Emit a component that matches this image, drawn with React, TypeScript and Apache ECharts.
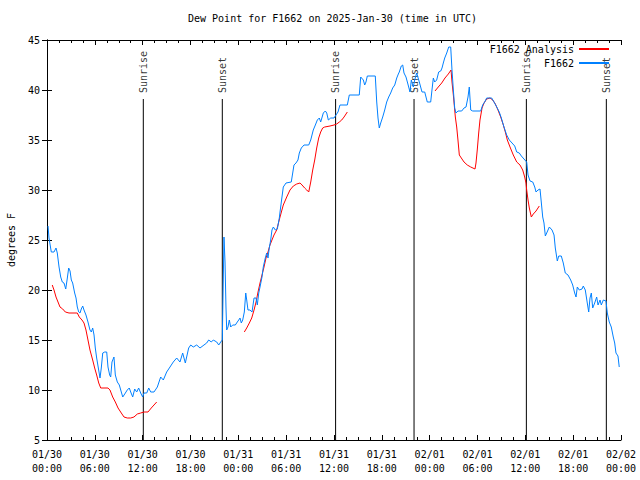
import React, { useEffect, useRef } from "react";
import * as echarts from "echarts";

// Hours since 2025-01-30 00:00 UTC
const blueT = [0.13,0.25,0.54,0.88,1.13,1.29,1.51,1.72,1.92,2.13,2.35,2.55,2.72,2.89,3.05,3.22,3.47,3.64,3.8,3.98,4.14,4.3,4.48,4.64,4.89,5.14,5.39,5.56,5.73,5.9,6.06,6.23,6.44,6.65,6.81,6.99,7.24,7.49,7.65,7.86,7.99,8.15,8.4,8.57,8.82,9.07,9.32,9.5,9.75,10.07,10.32,10.5,10.75,11.0,11.25,11.5,11.75,12.0,12.17,12.51,12.76,13.01,13.42,13.84,14.26,14.59,15.01,15.43,15.84,16.27,16.68,17.02,17.35,17.77,18.03,18.35,18.78,19.19,19.69,20.03,20.28,20.61,20.86,21.29,21.54,21.79,21.99,22.04,22.2,22.33,22.45,22.54,22.7,22.87,23.04,23.29,23.62,23.87,24.05,24.21,24.37,24.55,24.75,24.93,25.05,25.21,25.46,25.72,25.97,26.22,26.38,26.56,26.72,26.97,27.13,27.38,27.56,27.72,27.88,28.06,28.22,28.39,28.64,28.89,29.14,29.23,29.64,29.98,30.64,30.82,30.98,31.23,31.48,31.65,31.9,32.24,32.83,33.08,33.4,33.66,33.91,34.16,34.33,34.66,34.91,35.09,35.29,35.59,36.0,36.25,36.5,36.75,37.67,37.92,39.17,39.35,39.68,39.85,40.01,40.18,41.18,41.36,41.52,41.68,41.86,42.11,42.36,42.61,42.86,43.11,43.36,43.62,43.87,44.07,44.19,44.44,44.62,44.78,45.03,45.2,45.37,45.53,45.7,45.95,46.12,46.37,46.7,47.04,47.38,47.7,48.13,48.29,48.46,48.63,48.88,49.13,49.39,49.55,49.71,49.89,50.14,50.39,50.64,50.8,50.97,51.14,51.3,51.55,52.02,52.31,52.56,52.81,52.97,53.15,53.4,54.4,54.65,54.9,55.15,55.78,56.07,56.41,56.73,56.99,57.32,57.66,57.99,58.33,58.67,58.92,59.24,59.5,59.83,60.17,60.34,60.59,60.93,61.18,61.34,61.59,61.84,62.0,62.18,62.34,62.51,62.68,63.01,63.35,63.6,63.76,64.01,64.19,64.51,64.76,65.01,65.35,65.69,65.94,66.19,66.36,66.52,66.77,67.11,67.27,67.52,67.77,67.95,68.11,68.28,68.45,68.7,68.95,69.12,69.37,69.53,69.78,70.12,70.28,70.53,70.78,71.03,71.21,71.37,71.62,71.78];
const blueV = [26.4,25.2,23.8,23.8,24.2,23.7,22.3,21.3,20.8,20.7,20.1,21.2,22.2,21.9,21.0,20.7,19.7,19.2,18.3,17.8,17.7,18.1,18.4,18.0,17.5,16.8,16.0,15.8,16.2,15.5,14.2,13.2,12.2,11.2,12.2,13.7,13.8,13.8,12.3,11.5,11.3,12.8,13.3,11.5,10.8,10.5,9.8,9.3,9.6,10.0,10.2,9.8,9.3,10.1,9.8,10.2,9.7,9.3,9.7,9.7,10.2,9.8,9.8,10.3,11.3,11.0,11.8,12.3,12.8,13.2,12.8,13.7,12.7,14.2,14.5,14.3,14.5,14.2,14.5,14.7,15.0,14.8,15.0,14.8,14.5,14.8,15.0,17.5,25.3,22.8,18.3,16.0,16.3,17.0,16.3,16.5,16.5,16.8,17.0,17.2,16.7,17.0,17.8,19.7,19.0,18.0,18.0,17.8,19.2,19.2,18.5,19.7,20.3,21.3,22.3,23.2,23.7,23.2,24.2,25.0,26.0,26.3,26.0,26.1,27.2,27.8,30.3,30.7,30.8,31.7,32.5,32.7,33.0,33.7,34.2,34.5,34.5,35.0,36.0,36.5,37.0,37.2,36.8,37.7,37.9,37.7,37.0,37.2,37.2,37.5,37.8,38.5,38.5,39.5,39.5,41.3,41.0,40.5,40.8,41.4,41.4,38.8,37.2,36.2,36.7,37.3,38.0,38.8,39.3,39.7,40.2,40.5,41.2,41.6,41.8,42.4,42.5,41.7,41.3,40.8,40.3,39.8,41.0,40.3,41.0,41.7,40.8,39.8,39.8,38.8,38.8,40.0,41.2,40.8,41.0,41.8,41.9,42.2,42.7,43.2,43.7,44.3,44.3,42.0,40.0,38.2,37.7,37.9,37.9,38.2,38.3,39.3,40.3,38.0,37.9,37.9,38.5,38.8,39.2,39.2,38.8,38.3,37.8,37.2,36.3,35.5,35.0,34.7,34.4,33.8,33.7,33.4,33.1,32.8,31.5,30.9,30.8,30.3,29.8,30.0,30.1,28.8,27.3,26.7,25.4,25.7,26.3,26.0,25.5,24.2,22.9,23.4,23.4,22.7,21.7,21.5,21.0,20.5,19.7,19.3,20.3,20.0,20.1,20.4,20.0,18.7,17.8,19.2,19.7,18.2,18.7,19.3,18.5,19.0,18.5,19.0,18.9,17.7,16.8,16.3,15.3,14.7,13.7,13.4,12.3];

// null marks a gap in the analysis series
const redT = [0.66,0.88,1.13,1.38,1.63,1.97,2.3,2.76,3.8,4.05,4.39,4.64,4.89,5.14,5.39,5.73,5.98,6.23,6.49,6.74,7.65,7.9,8.24,8.57,8.91,9.32,9.66,10.07,10.5,10.91,11.33,11.75,12.17,12.67,13.08,13.42,13.76,14.0,
  24.75,25.05,25.38,25.68,25.97,26.22,26.47,26.72,26.97,27.22,27.47,27.72,27.97,28.22,28.47,28.81,29.23,29.64,30.07,30.48,30.9,31.32,31.74,31.99,32.32,32.58,32.83,33.08,33.33,33.58,33.83,34.08,34.33,34.58,34.83,35.5,36.0,36.34,36.67,36.97,37.26,37.67,38.0,
  48.67,49.08,49.51,49.92,50.34,50.68,50.8,50.97,51.22,51.39,51.55,51.72,51.97,52.31,52.72,53.15,53.69,53.81,53.97,54.15,54.31,54.57,54.82,55.15,55.57,55.91,56.24,56.57,56.91,57.24,57.49,57.74,58.08,58.49,58.92,59.33,59.67,59.92,60.08,60.17,60.34,60.5,60.75,61.0,61.34,61.75];
const redV = [20.5,20.0,19.3,18.8,18.3,18.1,17.8,17.7,17.7,17.3,17.0,16.7,16.0,15.0,14.0,13.0,12.2,11.5,10.7,10.2,10.2,10.0,9.3,8.8,8.2,7.7,7.3,7.2,7.2,7.3,7.6,7.7,7.8,7.8,8.2,8.5,8.8,null,
  15.8,16.2,16.7,17.2,18.0,18.8,19.8,20.7,21.5,22.3,23.2,23.8,24.5,25.0,25.5,26.0,27.3,28.5,29.3,30.0,30.4,30.6,30.7,30.5,30.2,30.0,29.8,30.8,32.0,33.0,34.2,35.2,35.8,36.2,36.3,36.4,36.5,36.6,36.8,37.0,37.3,37.8,null,
  39.9,40.3,40.7,41.2,41.6,42.0,40.8,39.5,37.3,36.3,35.0,33.5,33.2,32.8,32.5,32.3,32.1,32.7,34.0,35.7,37.0,38.2,38.7,39.1,39.2,39.0,38.6,38.0,37.3,36.5,35.8,35.0,34.3,33.5,32.8,32.5,32.0,31.3,30.7,30.0,29.0,28.2,27.3,27.6,27.9,28.4];

const sunTimes = [12.08, 21.99, 36.2, 46.04, 60.13, 70.16];
const sunNames = ["Sunrise", "Sunset", "Sunrise", "Sunset", "Sunrise", "Sunset"];
const sunLineTop = 39.1;
const sunLabelBase = 39.7;

const xTickLabels = [
  "01/30\n00:00", "01/30\n06:00", "01/30\n12:00", "01/30\n18:00",
  "01/31\n00:00", "01/31\n06:00", "01/31\n12:00", "01/31\n18:00",
  "02/01\n00:00", "02/01\n06:00", "02/01\n12:00", "02/01\n18:00",
  "02/02\n00:00",
];

const titleText = "Dew Point for F1662 on 2025-Jan-30 (time in UTC)";
const FONT = "DejaVu Sans Mono";

export default function App() {
  const ref = useRef<HTMLDivElement>(null);
  useEffect(() => {
    if (!ref.current) return;
    const chart = echarts.init(ref.current, null, { renderer: "svg" });
    const blueData = blueT.map((t, i) => [t, blueV[i]]);
    const redData = redT.map((t, i) => [t, redV[i] === null ? "-" : redV[i]]);
    const sunLineData: any[] = [];
    sunTimes.forEach((t) => {
      sunLineData.push([t, 5], [t, sunLineTop], [t, "-"]);
    });
    const sunLabelData = sunTimes.map((t, i) => ({ value: [t, sunLabelBase], name: sunNames[i] }));
    const axisLine = { show: true, lineStyle: { color: "#000", width: 1 } };
    const baseX = {
      type: "value",
      min: 0,
      max: 72,
      interval: 6,
      axisLine,
      axisTick: { show: true, inside: true, length: 5, lineStyle: { color: "#000" } },
      minorTick: { show: true, splitNumber: 4, length: 3, lineStyle: { color: "#000" } },
      splitLine: { show: false },
    };
    const baseY = {
      type: "value",
      min: 5,
      max: 45,
      interval: 5,
      axisLine,
      axisTick: { show: true, inside: true, length: 5, lineStyle: { color: "#000" } },
      splitLine: { show: false },
    };
    chart.setOption({
      animation: false,
      backgroundColor: "#fff",
      title: {
        text: titleText,
        left: 188,
        top: 13,
        padding: 0,
        textStyle: { fontFamily: FONT, fontSize: 10, fontWeight: "normal", color: "#000" },
      },
      legend: {
        data: ["F1662 Analysis", "F1662"],
        orient: "vertical",
        align: "right",
        right: 30,
        top: 44,
        padding: 0,
        itemWidth: 30,
        itemHeight: 10,
        itemGap: 4,
        itemStyle: { color: "rgba(0,0,0,0)", borderColor: "rgba(0,0,0,0)", borderWidth: 0 },
        textStyle: { fontFamily: FONT, fontSize: 10, color: "#000" },
      },
      grid: { left: 47, right: 19, top: 40, bottom: 40, containLabel: false, outerBoundsMode: "none" },
      xAxis: [
        {
          ...baseX,
          position: "bottom",
          axisLabel: {
            formatter: (v: number) => xTickLabels[Math.round(v / 6)] ?? "",
            fontFamily: FONT,
            fontSize: 10,
            color: "#000",
            lineHeight: 14,
            margin: 7,
          },
        },
        { ...baseX, position: "top", axisLabel: { show: false } },
      ],
      yAxis: [
        {
          ...baseY,
          position: "left",
          name: "degrees F",
          nameLocation: "middle",
          nameRotate: 90,
          nameGap: 31,
          nameTextStyle: { fontFamily: FONT, fontSize: 10, color: "#000" },
          axisLabel: { fontFamily: FONT, fontSize: 10, color: "#000", margin: 7 },
        },
        { ...baseY, position: "right", axisLabel: { show: false } },
      ],
      series: [
        {
          name: "sun",
          type: "line",
          data: sunLineData,
          symbol: "none",
          connectNulls: false,
          lineStyle: { color: "#000", width: 1 },
          silent: true,
        },
        {
          name: "sunLabels",
          type: "scatter",
          data: sunLabelData,
          symbolSize: 1,
          itemStyle: { color: "rgba(0,0,0,0)" },
          label: {
            show: true,
            formatter: "{b}",
            rotate: 90,
            position: "inside",
            align: "left",
            verticalAlign: "middle",
            fontFamily: FONT,
            fontSize: 10,
            color: "#000",
          },
          silent: true,
        },
        {
          name: "F1662 Analysis",
          type: "line",
          data: redData,
          symbol: "none",
          connectNulls: false,
          color: "#ff0000",
          lineStyle: { color: "#ff0000", width: 1 },
        },
        {
          name: "F1662",
          type: "line",
          data: blueData,
          symbol: "none",
          color: "#0080ff",
          lineStyle: { color: "#0080ff", width: 1 },
        },
      ],
    });
    return () => chart.dispose();
  }, []);
  return <div ref={ref} style={{ width: 640, height: 480, position: "absolute", left: 0, top: 0 }} />;
}
